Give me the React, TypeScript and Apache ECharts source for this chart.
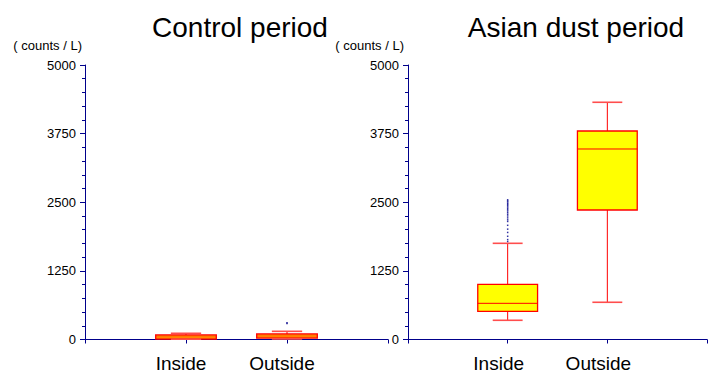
import React, { useEffect, useRef } from "react";
import * as echarts from "echarts";

const categories = ["Inside", "Outside"];
const panelTitles = ["Control period", "Asian dust period"];
const unitLabel = "( counts / L)";
const yTicks = [0, 1250, 2500, 3750, 5000];

// [min, Q1, median, Q3, max] per category
const controlStats = [
  [5, 9, 46, 82, 113],
  [10, 27, 64, 100, 149],
];
const dustStats = [
  [350, 514, 659, 1005, 1752],
  [678, 2359, 3470, 3798, 4321],
];
// outliers: [category position (1 = Inside, 2 = Outside), value]
const controlOutliers = [
  [2, 306],
  [2, 290],
];
const dustOutliers = [
  [1, 2545], [1, 2525], [1, 2505], [1, 2480], [1, 2460], [1, 2440],
  [1, 2415], [1, 2390], [1, 2365], [1, 2340], [1, 2310], [1, 2280],
  [1, 2250], [1, 2215], [1, 2180], [1, 2150], [1, 2080], [1, 2010],
  [1, 1950], [1, 1880], [1, 1820], [1, 1785],
];

const FONT = "'Liberation Sans', Arial, sans-serif";
const NAVY = "#00008b";

function boxData(stats: number[][]) {
  return stats.map((s, i) => [i + 1, ...s]);
}

function renderBox(params: any, api: any) {
  const x = api.value(0);
  const lo = api.coord([x, api.value(1)]);
  const q1 = api.coord([x, api.value(2)]);
  const med = api.coord([x, api.value(3)]);
  const q3 = api.coord([x, api.value(4)]);
  const hi = api.coord([x, api.value(5)]);
  const band = api.size([1, 0])[0];
  const bw = band * 0.6;
  const cw = bw / 2;
  const cx = lo[0];
  const ls = { stroke: "#ff0000", lineWidth: 1, fill: null };
  const cap = { stroke: "#ff4d4d", lineWidth: 1.6, fill: null };
  return {
    type: "group",
    children: [
      { type: "line", shape: { x1: cx, y1: q3[1], x2: cx, y2: hi[1] }, style: ls },
      { type: "line", shape: { x1: cx, y1: q1[1], x2: cx, y2: lo[1] }, style: ls },
      {
        type: "rect",
        shape: { x: cx - bw / 2, y: q3[1], width: bw, height: q1[1] - q3[1] },
        style: { fill: "#ffff00", stroke: "#ff0000", lineWidth: 1.3 },
      },
      { type: "line", shape: { x1: cx - bw / 2, y1: med[1], x2: cx + bw / 2, y2: med[1] }, style: ls },
      { type: "line", shape: { x1: cx - cw / 2, y1: hi[1], x2: cx + cw / 2, y2: hi[1] }, style: cap },
      { type: "line", shape: { x1: cx - cw / 2, y1: lo[1], x2: cx + cw / 2, y2: lo[1] }, style: cap },
    ],
  };
}

export default function App() {
  const ref = useRef<HTMLDivElement>(null);
  useEffect(() => {
    if (!ref.current) return;
    const chart = echarts.init(ref.current, null, { renderer: "svg" });
    const grids = [
      { left: 85, top: 65, width: 303, bottom: 33.5 },
      { left: 408, top: 65, width: 303, bottom: 33.5 },
    ];
    const labelShift = [10, 18];
    const xAxes = [0, 1].map((i) => ({
      type: "value",
      gridIndex: i,
      min: 0,
      max: 3,
      interval: 1,
      splitLine: { show: false },
      axisLine: { show: true, lineStyle: { color: NAVY, width: 1 } },
      axisTick: { show: true, length: 4, lineStyle: { color: NAVY } },
      axisLabel: {
        margin: 14,
        color: "#000",
        fontSize: 19,
        fontFamily: FONT,
        padding: [0, labelShift[i], 0, 0],
        formatter: (v: number) => (v >= 1 && v <= categories.length ? categories[v - 1] : ""),
      },
    }));
    const yAxes = [0, 1].map((i) => ({
      type: "value",
      gridIndex: i,
      min: yTicks[0],
      max: yTicks[yTicks.length - 1],
      interval: yTicks[1] - yTicks[0],
      splitLine: { show: false },
      axisLine: { show: true, lineStyle: { color: NAVY, width: 1 } },
      axisTick: { show: true, length: 5, lineStyle: { color: NAVY } },
      minorTick: { show: true, splitNumber: 5, length: 3, lineStyle: { color: NAVY } },
      axisLabel: {
        margin: 9,
        color: "#000",
        fontSize: 13,
        fontFamily: FONT,
        formatter: (v: number) => String(v),
      },
    }));
    const mkScatter = (idx: number, data: number[][]) => ({
      type: "scatter",
      xAxisIndex: idx,
      yAxisIndex: idx,
      data,
      symbol: "rect",
      symbolSize: [1.5, 1.5],
      itemStyle: { color: NAVY },
      z: 5,
    });
    const mkBox = (idx: number, stats: number[][]) => ({
      type: "custom",
      xAxisIndex: idx,
      yAxisIndex: idx,
      data: boxData(stats),
      encode: { x: 0, y: [1, 2, 3, 4, 5] },
      renderItem: renderBox,
      z: 3,
    });
    chart.setOption({
      animation: false,
      backgroundColor: "#fff",
      grid: grids,
      xAxis: xAxes,
      yAxis: yAxes,
      graphic: [
        {
          type: "text",
          x: 240,
          y: 27,
          style: { text: panelTitles[0], fill: "#000", font: `28px ${FONT}`, align: "center", verticalAlign: "middle" },
        },
        {
          type: "text",
          x: 576,
          y: 27,
          style: { text: panelTitles[1], fill: "#000", font: `28px ${FONT}`, align: "center", verticalAlign: "middle" },
        },
        {
          type: "text",
          x: 82,
          y: 45,
          style: { text: unitLabel, fill: "#000", font: `13px ${FONT}`, align: "right", verticalAlign: "middle" },
        },
        {
          type: "text",
          x: 404,
          y: 45,
          style: { text: unitLabel, fill: "#000", font: `13px ${FONT}`, align: "right", verticalAlign: "middle" },
        },
      ],
      series: [
        mkBox(0, controlStats),
        mkScatter(0, controlOutliers),
        mkBox(1, dustStats),
        mkScatter(1, dustOutliers),
      ],
    });
    return () => chart.dispose();
  }, []);
  return (
    <div
      ref={ref}
      style={{ position: "fixed", left: 0, top: 0, width: 710, height: 373 }}
    />
  );
}
